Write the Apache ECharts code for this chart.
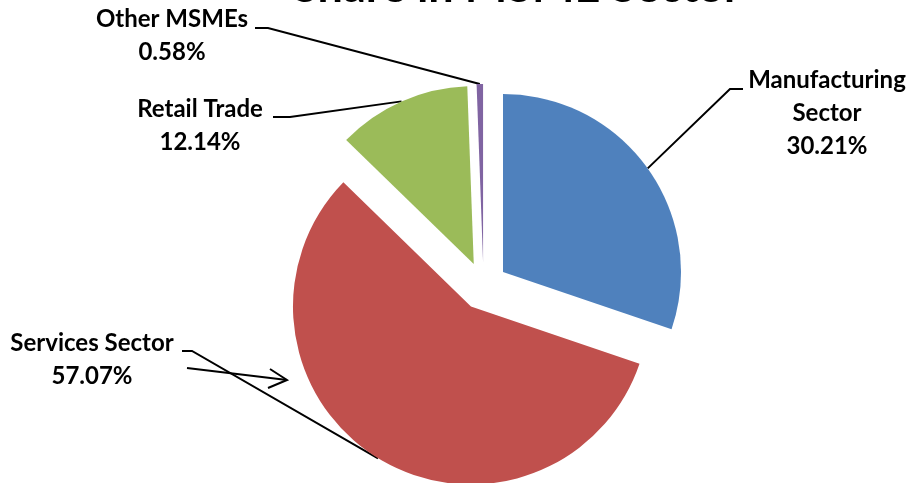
<!DOCTYPE html>
<html>
<head>
<meta charset="utf-8">
<script src="https://cdn.jsdelivr.net/npm/echarts@6/dist/echarts.min.js"></script>
<style>
  html, body { margin: 0; padding: 0; background: #fff; }
  #chart { width: 916px; height: 483px; }
</style>
</head>
<body>
<div id="chart"></div>
<script>
// Share of MSME units by sector (percent)
const sectors = ['Manufacturing\nSector', 'Services Sector', 'Retail Trade', 'Other MSMEs'];
const shares = [30.21, 57.07, 12.14, 0.58];
const colors = ['#4F81BD', '#C0504D', '#9BBB59', '#8064A2'];

// Pie geometry
const CX = 483.5, CY = 286, R = 178, EXPLODE = 24;

// Label placement: text centre/top and leader-line elbow for each slice
const labelPos = [
  { x: 827, y: 64,  elbow: [[730, 89], [743, 89]] },
  { x: 92,  y: 327, elbow: [[192, 351], [182, 351]] },
  { x: 200, y: 93,  elbow: [[290, 117], [273, 117]] },
  { x: 172, y: 3,   elbow: [[268, 28], [255, 28]] }
];

const total = shares.reduce((a, b) => a + b, 0);
// mid angle of each slice, measured clockwise from 12 o'clock
const midAngles = [];
let acc = 0;
shares.forEach(v => {
  midAngles.push((acc + v / 2) / total * 2 * Math.PI);
  acc += v;
});

// each slice is pulled out from the common centre along its mid angle
function sliceCenter(i) {
  const a = midAngles[i];
  return [CX + Math.sin(a) * EXPLODE, CY - Math.cos(a) * EXPLODE];
}
function edgePoint(i) {
  const c = sliceCenter(i), a = midAngles[i];
  return [c[0] + Math.sin(a) * R, c[1] - Math.cos(a) * R];
}

const labelStyle = {
  show: true,
  position: 'outside',
  formatter: p => p.name + '\n' + p.value.toFixed(2) + '%',
  fontFamily: 'Lato',
  fontWeight: 'bold',
  fontSize: 24,
  lineHeight: 33,
  color: '#000',
  align: 'center'
};

// one pie per slice, so every slice can sit on its own exploded centre
const series = sectors.map((_, k) => ({
  type: 'pie',
  center: sliceCenter(k),
  radius: R,
  startAngle: 90,
  clockwise: true,
  silent: true,
  emphasis: { disabled: true },
  itemStyle: { borderWidth: 0 },
  data: sectors.map((name, i) => ({
    name: name,
    value: shares[i],
    itemStyle: { color: i === k ? colors[i] : 'rgba(0,0,0,0)' },
    label: i === k ? labelStyle : { show: false },
    labelLine: i === k
      ? { show: true, lineStyle: { color: '#000', width: 2 } }
      : { show: false }
  })),
  labelLayout: function (params) {
    const i = params.dataIndex;
    if (i !== k) return {};
    const lp = labelPos[i];
    return {
      x: lp.x,
      y: lp.y,
      align: 'center',
      verticalAlign: 'top',
      labelLinePoints: [edgePoint(i), lp.elbow[0], lp.elbow[1]]
    };
  }
}));

const chart = echarts.init(document.getElementById('chart'), null, { renderer: 'canvas' });

chart.setOption({
  animation: false,
  backgroundColor: '#ffffff',
  title: {
    text: 'Share in MSME Sector',
    left: 517,
    textAlign: 'center',
    top: -35,
    padding: 0,
    textStyle: { fontFamily: 'Lato', fontWeight: 'bold', fontSize: 45, color: '#000' }
  },
  series: series,
  graphic: [{
    type: 'group',
    silent: true,
    children: [
      { type: 'line', shape: { x1: 187, y1: 368, x2: 287, y2: 380 },
        style: { stroke: '#000', lineWidth: 2 } },
      { type: 'polyline', shape: { points: [[270, 369], [287, 380], [268, 388]] },
        style: { stroke: '#000', lineWidth: 2, fill: null } }
    ]
  }]
});
</script>
</body>
</html>
